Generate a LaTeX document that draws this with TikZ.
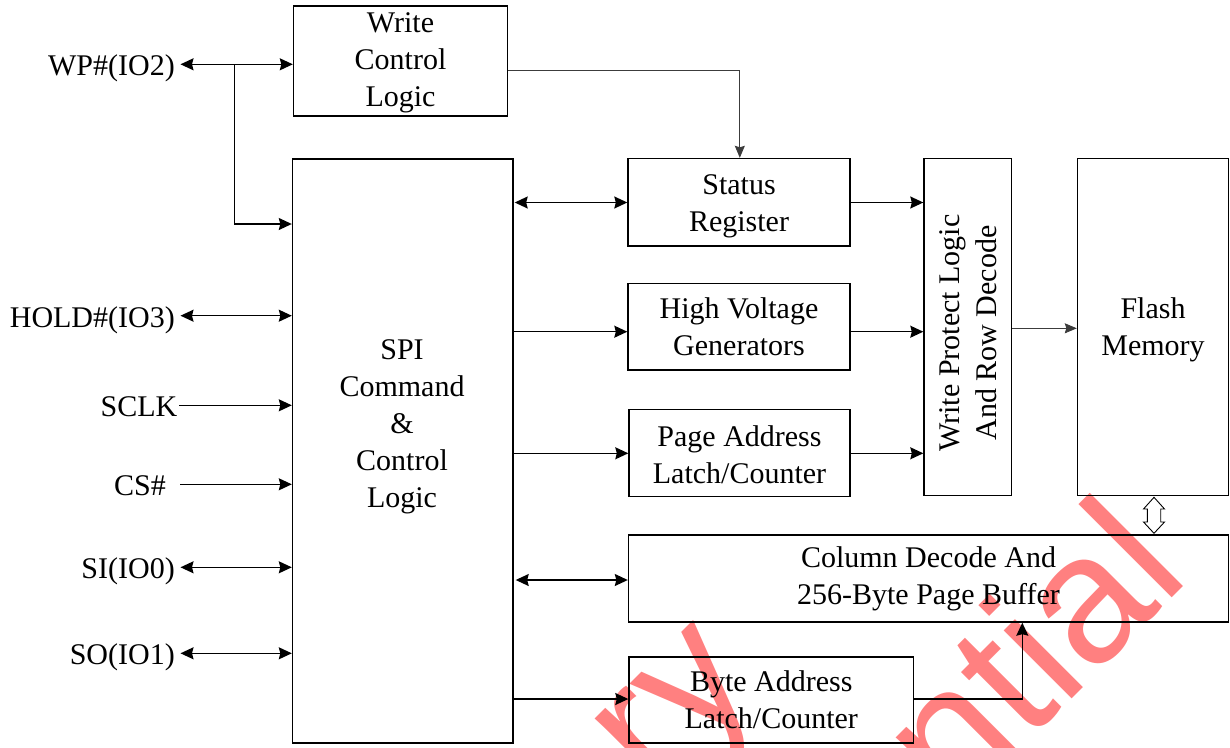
\documentclass[tikz,border=0pt]{standalone}
\usepackage{fontspec}
\setmainfont{Liberation Serif}
\newfontfamily\wmfont{Liberation Sans}
\usetikzlibrary{arrows.meta,calc}
\newcommand{\dfont}{\fontsize{30}{37}\selectfont}
\definecolor{wmred}{RGB}{255,128,128}
\definecolor{thinline}{RGB}{60,60,60}
\begin{document}
\begin{tikzpicture}[x=1pt,y=-1pt,
  blk/.style={draw,line width=1.4pt,inner sep=0pt,align=center,font=\dfont},
  txt/.style={inner sep=0pt,align=center,font=\dfont},
  tip/.tip={Stealth[length=13pt,width=12pt,inset=1.5pt]},
  arr/.style={line width=1.3pt,-tip},
  barr/.style={line width=1.3pt,tip-tip},
  tarr/.style={line width=0.9pt,draw=thinline,-{Stealth[length=12pt,width=10pt,inset=1.5pt]}},
  wm/.style={text=wmred,inner sep=0pt,font=\wmfont\fontsize{182}{200}\selectfont}
]
\useasboundingbox (0,0) rectangle (1230,747);
% watermark
\begin{scope}
\clip (0,0) rectangle (1230,747);
\node[wm,rotate=45,anchor=base east] (wm1) at (1192,578) {Confidential};
\node[wm,rotate=45,anchor=base east] (wm2) at (762,688) {Preliminary};
\end{scope}

% blocks
\node[blk,minimum width=214pt,minimum height=110pt] (wcl) at (400.5,61) {};
\node[txt] (wclt) at (400.5,63) {Write\\Control\\Logic};
\node[blk,minimum width=220.5pt,minimum height=584pt] (spi) at (402.75,451) {};
\node[txt] (spit) at (402,427) {SPI\\Command\\\&\\Control\\Logic};
\node[blk,minimum width=222pt,minimum height=87.5pt] (sr) at (739,202.25) {};
\node[txt] (srt) at (739,206) {Status\\Register};
\node[blk,minimum width=222pt,minimum height=86.5pt] (hv) at (739,326.75) {High Voltage\\Generators};
\node[blk,minimum width=221pt,minimum height=87pt] (pa) at (739.5,453) {};
\node[txt] (pat) at (739.5,454.5) {Page Address\\Latch/Counter};
\node[blk,minimum width=87.5pt,minimum height=337pt] (wpl) at (967.75,327) {};
\node[txt,rotate=90] (wplt) at (968.5,333) {Write Protect Logic\\And Row Decode};
\node[blk,minimum width=151pt,minimum height=337pt] (fm) at (1153,327) {};
\node[txt] (fmt) at (1153,330) {Flash\\Memory};
\node[blk,minimum width=600pt,minimum height=87pt] (col) at (928.5,578.5) {};
\node[txt] (colt) at (928.5,579) {Column Decode And\\256-Byte Page Buffer};
\node[blk,minimum width=284.5pt,minimum height=86pt] (ba) at (771.25,700) {Byte Address\\Latch/Counter};

% pins
\coordinate (pwp) at (180.5,64.3);
\coordinate (phold) at (180.5,315.7);
\coordinate (psclk) at (179,405.3);
\coordinate (pcs) at (180,484.3);
\coordinate (psi) at (180.5,567.3);
\coordinate (pso) at (180.5,653.3);
\node[txt,anchor=base east] (wp) at (175,75.8) {WP\#(IO2)};
\node[txt,anchor=base east] (hold) at (175,327.2) {HOLD\#(IO3)};
\node[txt,anchor=base east] (sclk) at (177.5,416.8) {SCLK};
\node[txt,anchor=base east] (cs) at (166,495.8) {CS\#};
\node[txt,anchor=base east] (si) at (175,578.8) {SI(IO0)};
\node[txt,anchor=base east] (so) at (175,664.8) {SO(IO1)};

\draw[barr] (pwp) -- (pwp -| wcl.west);
\coordinate (jwp) at (234.5,64.3);
\coordinate (jspi) at (234.5,224);
\draw[arr] (jwp) -- (jspi) -- (jspi -| spi.west);
\draw[barr] (phold) -- (phold -| spi.west);
\draw[arr] (psclk) -- (psclk -| spi.west);
\draw[arr] (pcs) -- (pcs -| spi.west);
\draw[barr] (psi) -- (psi -| spi.west);
\draw[barr] (pso) -- (pso -| spi.west);

% SPI outputs
\coordinate (ysr) at (0,202.5);
\coordinate (yhv) at (0,331.7);
\coordinate (ypa) at (0,453.3);
\coordinate (ycol) at (0,580);
\coordinate (yba) at (0,699);
\draw[barr] ([xshift=1pt]spi.east |- ysr) -- (sr.west |- ysr);
\draw[arr] (spi.east |- yhv) -- (hv.west |- yhv);
\draw[arr] (spi.east |- ypa) -- (pa.west |- ypa);
\draw[barr] ([xshift=2pt]spi.east |- ycol) -- (col.west |- ycol);
\draw[arr] (spi.east |- yba) -- (ba.west |- yba);

% write control logic to status register
\coordinate (wcly) at (0,70.3);
\coordinate (wclc) at (739.8,70.3);
\draw[tarr] (wcl.east |- wcly) -- (wclc) -- (wclc |- sr.north);

% into write protect logic
\draw[arr] (sr.east |- ysr) -- (wpl.west |- ysr);
\draw[arr] (hv.east |- yhv) -- (wpl.west |- yhv);
\draw[arr] (pa.east |- ypa) -- (wpl.west |- ypa);
\coordinate (yfm) at (0,328.3);
\draw[tarr] (wpl.east |- yfm) -- (fm.west |- yfm);

% byte address to column decode
\coordinate (bac) at (1022.3,699);
\draw[arr] (ba.east |- yba) -- (bac) -- (bac |- col.south);

% hollow double arrow between flash memory and column decode
\draw[line width=0.9pt,line join=miter]
  (1154,497.3) -- (1164.5,509) -- (1160.7,509) -- (1160.7,522) -- (1164.5,522)
  -- (1154,533.3) -- (1143.5,522) -- (1147.3,522) -- (1147.3,509) -- (1143.5,509) -- cycle;
\end{tikzpicture}
\end{document}
